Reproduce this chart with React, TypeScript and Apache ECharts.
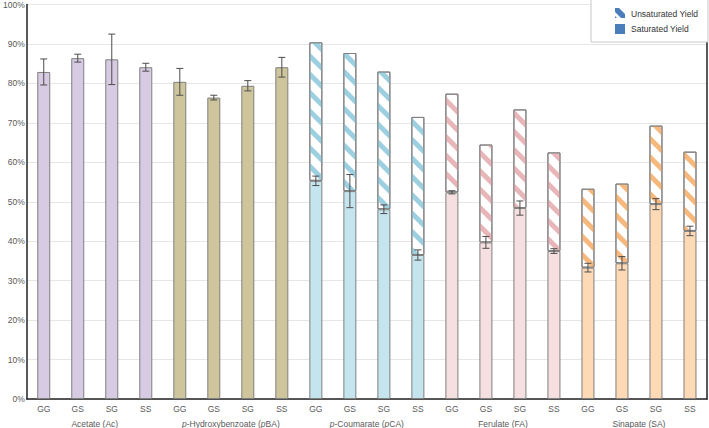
import React, { useEffect, useRef } from "react";
import * as echarts from "echarts";

const subCategories = [
  "GG", "GS", "SG", "SS",
  "GG", "GS", "SG", "SS",
  "GG", "GS", "SG", "SS",
  "GG", "GS", "SG", "SS",
  "GG", "GS", "SG", "SS",
];
const groups = [
  "Acetate (Ac)",
  "p-Hydroxybenzoate (pBA)",
  "p-Coumarate (pCA)",
  "Ferulate (FA)",
  "Sinapate (SA)",
];
const groupLabels = [
  "Acetate (Ac)",
  "{i|p}-Hydroxybenzoate ({i|p}BA)",
  "{i|p}-Coumarate ({i|p}CA)",
  "Ferulate (FA)",
  "Sinapate (SA)",
];
const yTicks = [0, 10, 20, 30, 40, 50, 60, 70, 80, 90, 100];

const saturated = [
  82.9, 86.4, 86.1, 84.1,
  80.4, 76.4, 79.4, 84.1,
  55.3, 52.7, 48.1, 36.5,
  52.4, 39.7, 48.4, 37.5,
  33.3, 34.4, 49.4, 42.6,
];
const saturatedErr = [
  3.3, 1.0, 6.4, 1.0,
  3.4, 0.6, 1.3, 2.5,
  1.2, 4.2, 1.1, 1.3,
  0.4, 1.5, 1.8, 0.6,
  1.1, 1.7, 1.4, 1.2,
];
const unsaturated: (number | null)[] = [
  null, null, null, null,
  null, null, null, null,
  35.1, 35.0, 34.9, 35.0,
  25.0, 24.8, 25.0, 25.0,
  20.0, 20.2, 19.9, 20.1,
];

const groupFill = ["#d6cbe3", "#cec59c", "#c4e4ee", "#f6dfe0", "#fdd9b6"];
const groupHatch = ["#b9a9d0", "#b8ad7a", "#9ccfe0", "#e8b5b8", "#f6b87c"];
const legendBlue = "#4a7ebb";
const borderGray = "#7f7f7f";

export default function App() {
  const ref = useRef<HTMLDivElement>(null);
  useEffect(() => {
    if (!ref.current) return;
    const chart = echarts.init(ref.current, null, { renderer: "svg" });
    const g = (i: number) => Math.floor(i / 4);
    const labelColor = "#595959";
    const font = "'Liberation Sans', Arial, sans-serif";
    const fs = 8.5;

    const option: any = {
      animation: false,
      textStyle: { fontFamily: font },
      grid: { left: 22, right: 2, top: 4, bottom: 27, containLabel: false },
      xAxis: [
        {
          type: "category",
          data: subCategories,
          axisLine: { show: true, lineStyle: { color: "#222", width: 1.5 } },
          axisTick: { show: false },
          axisLabel: { color: labelColor, fontSize: fs, margin: 5, fontFamily: font, interval: 0 },
          splitLine: { show: false },
        },
        {
          type: "category",
          data: groups,
          position: "bottom",
          offset: 16,
          axisLine: { show: false },
          axisTick: { show: false },
          axisLabel: {
            color: labelColor,
            fontSize: fs,
            margin: 4,
            interval: 0,
            fontFamily: font,
            formatter: (_v: string, idx: number) => groupLabels[idx],
            rich: {
              i: { fontStyle: "italic", fontSize: fs, color: labelColor, fontFamily: font },
            },
          },
          splitLine: { show: false },
        },
      ],
      yAxis: [
        {
          type: "value",
          min: yTicks[0],
          max: yTicks[yTicks.length - 1],
          interval: 10,
          axisLine: { show: true, lineStyle: { color: "#222", width: 1.5 } },
          axisTick: { show: false },
          axisLabel: { color: labelColor, fontSize: fs, margin: 2, formatter: "{value}%", fontFamily: font },
          splitLine: { show: true, lineStyle: { color: "#e6e6e6", width: 1 } },
        },
        {
          type: "value",
          position: "right",
          min: 0,
          max: 100,
          interval: 10,
          axisLine: { show: true, lineStyle: { color: "#222", width: 1.5 } },
          axisTick: { show: false },
          axisLabel: { show: false },
          splitLine: { show: false },
        },
      ],
      series: [
        {
          type: "bar",
          name: "Saturated Yield",
          stack: "total",
          barWidth: 13,
          xAxisIndex: 0,
          yAxisIndex: 0,
          itemStyle: { color: legendBlue },
          data: saturated.map((v, i) => ({
            value: v,
            itemStyle: { color: groupFill[g(i)], borderColor: borderGray, borderWidth: 1 },
          })),
        },
        {
          type: "bar",
          name: "Unsaturated Yield",
          stack: "total",
          barWidth: 13,
          xAxisIndex: 0,
          yAxisIndex: 0,
          itemStyle: { color: legendBlue },
          data: unsaturated.map((v, i) =>
            v == null
              ? "-"
              : {
                  value: v,
                  itemStyle: {
                    color: "#ffffff",
                    borderColor: borderGray,
                    borderWidth: 1,
                    decal: {
                      symbol: "rect",
                      symbolSize: 1,
                      dashArrayX: [1, 0],
                      dashArrayY: [5, 8],
                      rotation: Math.PI / 4,
                      color: groupHatch[g(i)],
                      backgroundColor: "rgba(255,255,255,0)",
                    },
                  },
                }
          ),
        },
        {
          type: "custom",
          name: "err",
          xAxisIndex: 0,
          yAxisIndex: 0,
          z: 10,
          encode: { x: 0, y: 1 },
          data: saturated.map((v, i) => [i, v, saturatedErr[i]]),
          renderItem: (_params: any, api: any) => {
            const x = api.value(0);
            const v = api.value(1);
            const e = api.value(2);
            const hi = api.coord([x, v + e]);
            const lo = api.coord([x, v - e]);
            const w = 3.5;
            const st = { stroke: "#4d4d4d", lineWidth: 1 };
            return {
              type: "group",
              children: [
                { type: "line", shape: { x1: hi[0], y1: hi[1], x2: lo[0], y2: lo[1] }, style: st },
                { type: "line", shape: { x1: hi[0] - w, y1: hi[1], x2: hi[0] + w, y2: hi[1] }, style: st },
                { type: "line", shape: { x1: lo[0] - w, y1: lo[1], x2: lo[0] + w, y2: lo[1] }, style: st },
              ],
            };
          },
        },
      ],
      graphic: [
        {
          type: "rect",
          shape: { x: 591, y: -1, width: 117, height: 43 },
          style: { fill: "#ffffff", stroke: "#c8c8c8", lineWidth: 1 },
          z: 100,
        },
        {
          type: "rect",
          shape: { x: 615, y: 8, width: 10, height: 10 },
          style: { fill: legendBlue },
          z: 101,
        },
        {
          type: "polygon",
          shape: { points: [[619, 8], [625, 8], [625, 14]] },
          style: { fill: "#ffffff" },
          z: 102,
        },
        {
          type: "polygon",
          shape: { points: [[615, 12], [621, 18], [617, 18], [615, 16]] },
          style: { fill: "#ffffff" },
          z: 102,
        },
        {
          type: "text",
          x: 631,
          y: 14,
          style: {
            text: "Unsaturated Yield",
            fill: "#333333",
            fontSize: fs,
            fontFamily: font,
            verticalAlign: "middle",
          },
          z: 102,
        },
        {
          type: "rect",
          shape: { x: 615, y: 24, width: 10, height: 10 },
          style: { fill: legendBlue },
          z: 101,
        },
        {
          type: "text",
          x: 631,
          y: 29,
          style: {
            text: "Saturated Yield",
            fill: "#333333",
            fontSize: fs,
            fontFamily: font,
            verticalAlign: "middle",
          },
          z: 102,
        },
      ],
    };
    chart.setOption(option);
    return () => chart.dispose();
  }, []);
  return <div ref={ref} style={{ width: 709, height: 428, position: "absolute", left: 0, top: 0 }} />;
}
